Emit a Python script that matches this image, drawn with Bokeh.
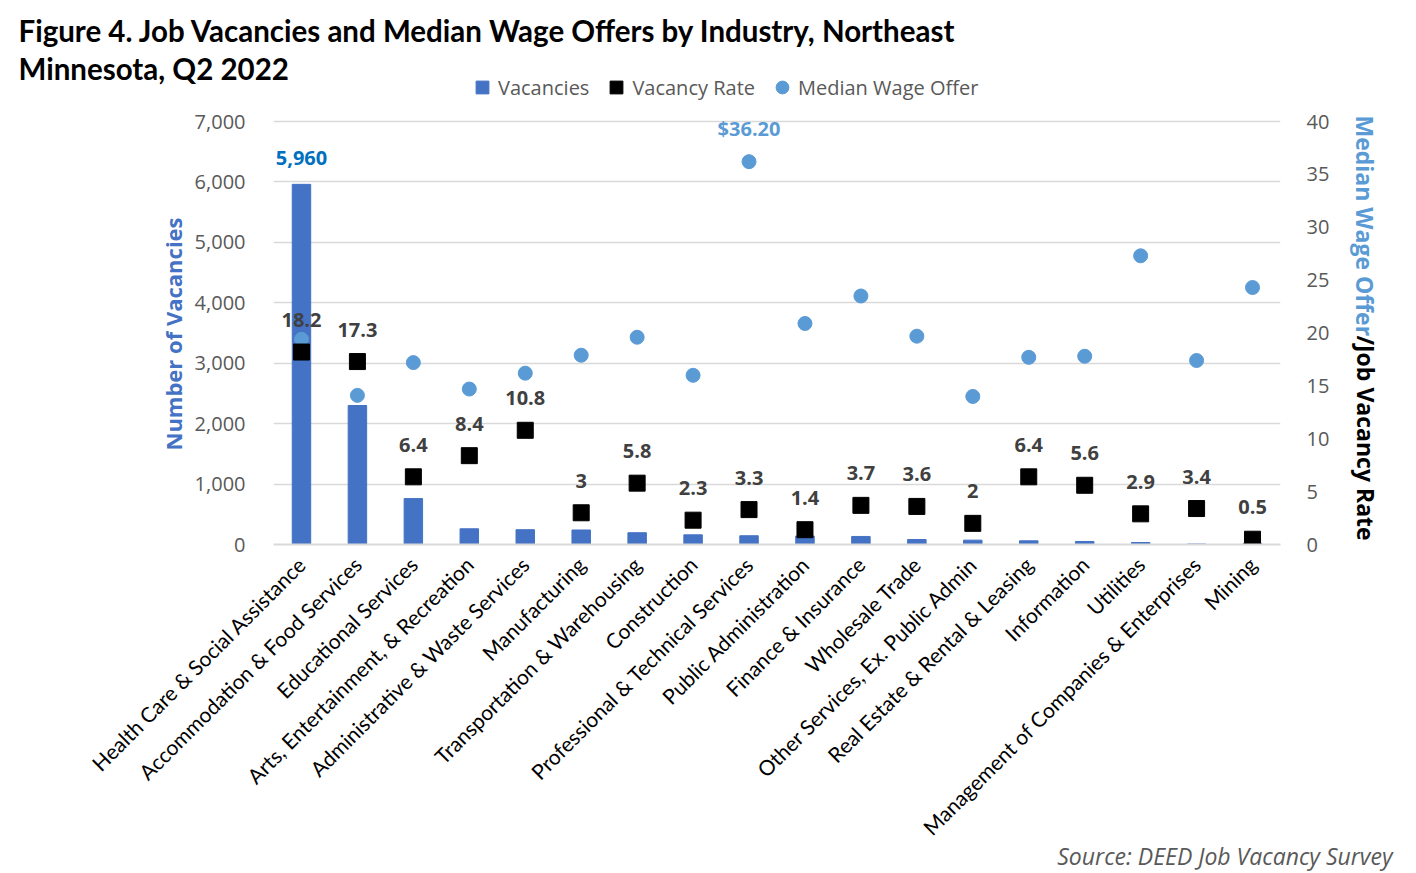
import math
from bokeh.plotting import figure
from bokeh.models import (Range1d, LinearAxis, ColumnDataSource, Title,
                          Legend, LegendItem, NumeralTickFormatter, FixedTicker)
from bokeh.core.properties import value
from bokeh.embed import file_html
from bokeh.resources import INLINE

industries = [
    "Health Care & Social Assistance",
    "Accommodation & Food Services",
    "Educational Services",
    "Arts, Entertainment, & Recreation",
    "Administrative & Waste Services",
    "Manufacturing",
    "Transportation & Warehousing",
    "Construction",
    "Professional & Technical Services",
    "Public Administration",
    "Finance & Insurance",
    "Wholesale Trade",
    "Other Services, Ex. Public Admin",
    "Real Estate & Rental & Leasing",
    "Information",
    "Utilities",
    "Management of Companies & Enterprises",
    "Mining",
]
vacancies = [5960, 2300, 760, 260, 245, 240, 195, 160, 145, 140, 133, 83, 72, 61, 50, 33, 8, 20]
vacancy_rate = [18.2, 17.3, 6.4, 8.4, 10.8, 3, 5.8, 2.3, 3.3, 1.4, 3.7, 3.6, 2, 6.4, 5.6, 2.9, 3.4, 0.5]
median_wage = [19.4, 14.1, 17.2, 14.7, 16.2, 17.9, 19.6, 16.0, 36.2, 20.9, 23.5, 19.7, 14.0, 17.7, 17.8, 27.3, 17.4, 24.3]
left_ticks = [0, 1000, 2000, 3000, 4000, 5000, 6000, 7000]
right_ticks = [0, 5, 10, 15, 20, 25, 30, 35, 40]

BAR = "#4472C4"
DOT = "#5B9BD5"
GRAY = "#595959"
SANS = "Open Sans"

n = len(industries)
pos = list(range(n))
src = ColumnDataSource(dict(
    x=pos, vac=vacancies, rate=vacancy_rate, wage=median_wage,
    rate_lbl=[f"{v:g}" for v in vacancy_rate],
))

# layout (page pixels): frame x 273..1280, bottom 544; 7000 / 40 sit at y=121.
# The frame is extended up to y=78 so the legend can live inside it.
FL, FR, FB, Y7K, FT = 273, 1280, 544, 121, 78
W, H = 1400, 873
stretch = (FB - FT) / (FB - Y7K)

p = figure(x_range=Range1d(-0.5, n - 0.5), y_range=Range1d(0, 7000 * stretch),
           width=W, height=H, output_backend="svg", toolbar_location=None,
           min_border_left=FL, min_border_right=W - FR, min_border_top=FT,
           min_border_bottom=H - FB)
p.title.visible = False
p.extra_y_ranges = {"right": Range1d(0, 40 * stretch)}
p.outline_line_color = None
p.background_fill_color = "white"
p.border_fill_color = "white"

p.xgrid.grid_line_color = None
p.ygrid.grid_line_color = "#D9D9D9"
p.ygrid.grid_line_width = 1.5

# left axis
ya = p.yaxis[0]
ya.ticker = FixedTicker(ticks=left_ticks)
ya.formatter = NumeralTickFormatter(format="0,0")
ya.axis_line_color = None
ya.major_tick_line_color = None
ya.minor_tick_line_color = None
ya.major_label_text_font = SANS
ya.major_label_text_font_size = "20px"
ya.major_label_text_color = GRAY
ya.major_label_standoff = 22

# right axis (blank axis label used as spacer before the title)
ra = LinearAxis(y_range_name="right", ticker=FixedTicker(ticks=right_ticks))
ra.axis_line_color = None
ra.major_tick_line_color = None
ra.minor_tick_line_color = None
ra.major_label_text_font = SANS
ra.major_label_text_font_size = "20px"
ra.major_label_text_color = GRAY
ra.major_label_standoff = 20
ra.axis_label = " "
ra.axis_label_text_font_size = "20px"
ra.axis_label_standoff = 5
p.add_layout(ra, "right")

# bottom axis (industry names)
xa = p.xaxis[0]
xa.ticker = FixedTicker(ticks=pos)
xa.major_label_overrides = {i: name for i, name in zip(pos, industries)}
xa.axis_line_color = "#D9D9D9"
xa.axis_line_width = 2
xa.major_tick_line_color = None
xa.minor_tick_line_color = None
xa.major_label_orientation = math.pi / 4
xa.major_label_text_font = "Lato"
xa.major_label_text_font_size = "21px"
xa.major_label_text_color = "black"
xa.major_label_standoff = 10

bars = p.vbar(x="x", top="vac", width=0.33, source=src, color=BAR)
dots = p.scatter(x="x", y="wage", source=src, y_range_name="right",
                 marker="circle", size=14, color=DOT)
sqs = p.scatter(x="x", y="rate", source=src, y_range_name="right",
                marker="square", size=16, color="black")
p.text(x="x", y="rate", text="rate_lbl", source=src, y_range_name="right",
       y_offset=-32, text_align="center", text_baseline="middle",
       text_font=value(SANS), text_font_style="bold", text_font_size="20px",
       text_color="#404040")

# highlighted data labels
imax = median_wage.index(max(median_wage))
p.text(x=[pos[0]], y=[vacancies[0]], text=[f"{vacancies[0]:,}"],
       y_offset=-26, text_align="center", text_baseline="middle",
       text_font=value(SANS), text_font_style="bold", text_font_size="20px",
       text_color="#0070C0")
p.text(x=[pos[imax]], y=[median_wage[imax]], text=[f"${median_wage[imax]:.2f}"],
       y_range_name="right", y_offset=-33, text_align="center", text_baseline="middle",
       text_font=value(SANS), text_font_style="bold", text_font_size="20px",
       text_color=DOT)

# legend (hidden square proxy for the bars so all three keys are same-size markers)
bar_key = p.scatter(x="x", y="vac", source=src, marker="square", size=13,
                    color=BAR, visible=False)
legend = Legend(items=[LegendItem(label="Vacancies", renderers=[bar_key]),
                       LegendItem(label="Vacancy Rate", renderers=[sqs]),
                       LegendItem(label="Median Wage Offer", renderers=[dots])],
                orientation="horizontal", location=(193, 441))
legend.label_text_font = SANS
legend.label_text_font_size = "20px"
legend.label_text_color = GRAY
legend.glyph_width = 32
legend.glyph_height = 32
legend.label_standoff = 0
legend.spacing = 11
legend.padding = 0
legend.margin = 0
legend.border_line_color = None
legend.background_fill_alpha = 0
legend.inactive_fill_alpha = 0
p.add_layout(legend)


def make_title(text, standoff, fallback, **kw):
    try:
        return Title(text=text, standoff=standoff, **kw)
    except Exception:
        return Title(text=text, standoff=fallback, **kw)


# main title (two lines), nearest line first
head = dict(align="left", offset=-255, text_font="Lato", text_font_style="bold",
            text_font_size="29.5px", text_color="black")
p.add_layout(make_title("Minnesota, Q2 2022", -15, 0, **head), "above")
p.add_layout(make_title("Figure 4. Job Vacancies and Median Wage Offers by Industry, Northeast",
                        17, 0, **head), "above")

# left axis title
p.add_layout(Title(text="Number of Vacancies", align="left", offset=94, standoff=8,
                   text_font=SANS, text_font_style="bold", text_font_size="22px",
                   text_color=BAR), "left")

# right axis title in two colours, drawn on one line
p.add_layout(make_title("Median Wage Offer", -31, 0, align="left", offset=37,
                        vertical_align="top", text_font=SANS, text_font_style="bold",
                        text_font_size="23px", text_color=DOT), "right")
p.add_layout(make_title("/Job Vacancy Rate", -31, 0, align="left", offset=257,
                        vertical_align="bottom", text_font=SANS, text_font_style="bold",
                        text_font_size="23px", text_color="black"), "right")

# source note
p.add_layout(make_title("Source: DEED Job Vacancy Survey", -24, 0, align="right", offset=-112,
                        vertical_align="top", text_font=SANS, text_font_style="italic",
                        text_font_size="23px", text_color=GRAY), "below")

open("out.html", "w").write(file_html(p, INLINE))
